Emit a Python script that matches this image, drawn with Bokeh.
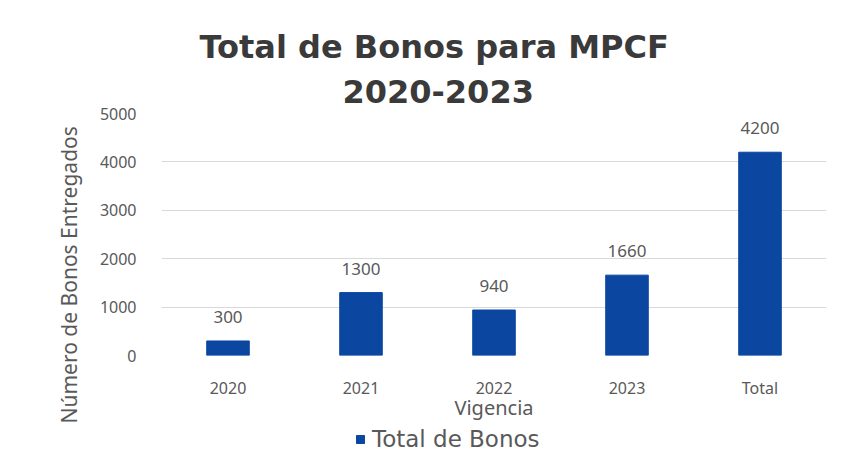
from bokeh.plotting import figure
from bokeh.layouts import column
from bokeh.models import ColumnDataSource, Legend, LegendItem, LabelSet, Title, Range1d
from bokeh.core.properties import value
from bokeh.embed import file_html
from bokeh.resources import INLINE

categories = ["2020", "2021", "2022", "2023", "Total"]
bonos = [300, 1300, 940, 1660, 4200]
y_ticks = [0, 1000, 2000, 3000, 4000, 5000]
title_lines = ["Total de Bonos para MPCF", "2020-2023"]
y_label = "Número de Bonos Entregados"
x_label = "Vigencia"
series_name = "Total de Bonos"

BLUE = "#0b47a1"
GRAY = "#595959"

source = ColumnDataSource(dict(cat=categories, val=bonos, lbl=[str(v) for v in bonos]))

p = figure(x_range=categories, y_range=(0, 5000), width=866, height=426,
           output_backend="svg", toolbar_location=None,
           min_border_left=161, min_border_right=40, min_border_top=113, min_border_bottom=71)

r = p.vbar(x="cat", top="val", width=0.32, source=source, fill_color=BLUE, line_color=BLUE)

labels = LabelSet(x="cat", y="val", text="lbl", source=source, y_offset=18,
                  text_align="center", text_font=value("Noto Sans"), text_font_size="17px",
                  text_color=GRAY)
p.add_layout(labels)

p.yaxis.ticker = y_ticks
p.outline_line_color = None
p.xgrid.grid_line_color = None
p.ygrid.grid_line_color = "#d9d9d9"
p.ygrid.grid_line_width = 1

for ax in (p.xaxis[0], p.yaxis[0]):
    ax.axis_line_color = None
    ax.major_tick_line_color = None
    ax.minor_tick_line_color = None
    ax.major_label_text_color = GRAY
    ax.major_label_text_font = "Noto Sans"
    ax.major_label_text_font_size = "16px"
    ax.axis_label_text_color = GRAY
    ax.axis_label_text_font = "Noto Sans"
    ax.axis_label_text_font_style = "normal"
    ax.axis_label_text_font_size = "20px"

p.yaxis.major_label_standoff = 19
p.xaxis.axis_label = x_label
p.xaxis.major_label_standoff = 15
p.xaxis.axis_label_standoff = -8

# vertical axis title, shifted down as in the reference
p.add_layout(Title(text=y_label, align="left", offset=-68, standoff=27,
                   text_font="Noto Sans", text_font_style="normal",
                   text_font_size="21px", text_color=GRAY), "left")

# two-line title; first added sits closest to the plot
offsets = [181, 38]
standoffs = [21, 4]
for t, off, so in zip(reversed(title_lines), offsets, standoffs):
    p.add_layout(Title(text=t, align="left", offset=off, standoff=so,
                       text_font="DejaVu Sans", text_font_style="bold",
                       text_font_size="32px", text_color="#3a3a3a"), "above")

p.border_fill_color = "white"
p.background_fill_color = "white"

# legend strip below the chart
leg = figure(x_range=p.x_range, y_range=Range1d(-2, -1), width=866, height=26,
             output_backend="svg", toolbar_location=None,
             x_axis_location=None, y_axis_location=None,
             min_border_left=0, min_border_right=0, min_border_top=0, min_border_bottom=0)
leg.outline_line_color = None
leg.grid.visible = False
lr = leg.vbar(x="cat", top="val", width=0.32, source=source, fill_color=BLUE, line_color=BLUE)
lr.visible = False

legend = Legend(items=[LegendItem(label=series_name, renderers=[lr])],
                location=(194, 0), orientation="horizontal",
                glyph_width=10, glyph_height=10, label_text_font="DejaVu Sans",
                label_text_font_size="23px", label_text_color=GRAY,
                background_fill_alpha=0, border_line_color=None,
                inactive_fill_alpha=0,
                padding=0, margin=0, label_standoff=7)
leg.add_layout(legend, "center")
leg.border_fill_color = "white"
leg.background_fill_color = "white"

layout = column(p, leg, spacing=0)

open("out.html", "w").write(file_html(layout, INLINE))
